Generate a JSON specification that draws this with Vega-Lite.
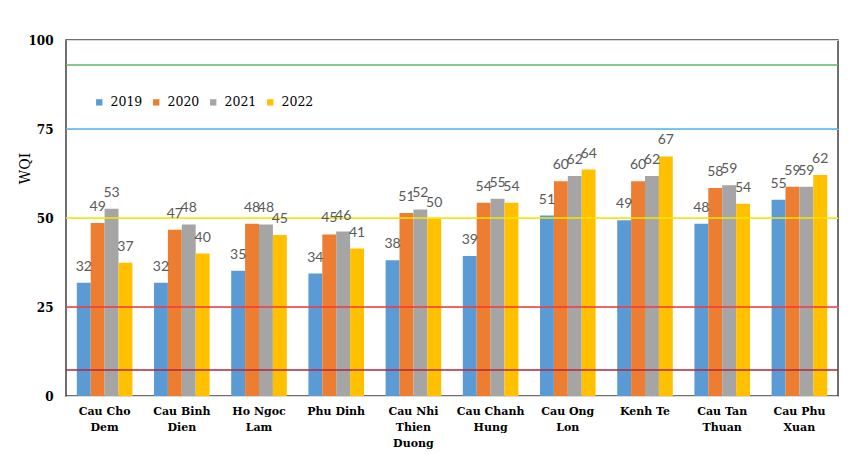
{
  "$schema": "https://vega.github.io/schema/vega-lite/v6.json",
  "width": 772,
  "height": 356,
  "autosize": {"type": "none"},
  "padding": {"left": 66, "top": 40, "right": 15, "bottom": 62},
  "background": "white",
  "config": {
    "view": {"stroke": "#404040", "strokeWidth": 1.5}
  },
  "datasets": {
    "wqi": [
      {"station": "Cau Cho Dem", "year": "2019", "wqi": 31.8},
      {"station": "Cau Cho Dem", "year": "2020", "wqi": 48.6},
      {"station": "Cau Cho Dem", "year": "2021", "wqi": 52.6},
      {"station": "Cau Cho Dem", "year": "2022", "wqi": 37.4},
      {"station": "Cau Binh Dien", "year": "2019", "wqi": 31.8},
      {"station": "Cau Binh Dien", "year": "2020", "wqi": 46.7},
      {"station": "Cau Binh Dien", "year": "2021", "wqi": 48.2},
      {"station": "Cau Binh Dien", "year": "2022", "wqi": 40.0},
      {"station": "Ho Ngoc Lam", "year": "2019", "wqi": 35.2},
      {"station": "Ho Ngoc Lam", "year": "2020", "wqi": 48.4},
      {"station": "Ho Ngoc Lam", "year": "2021", "wqi": 48.2},
      {"station": "Ho Ngoc Lam", "year": "2022", "wqi": 45.2},
      {"station": "Phu Dinh", "year": "2019", "wqi": 34.4},
      {"station": "Phu Dinh", "year": "2020", "wqi": 45.4},
      {"station": "Phu Dinh", "year": "2021", "wqi": 46.2},
      {"station": "Phu Dinh", "year": "2022", "wqi": 41.4},
      {"station": "Cau Nhi Thien Duong", "year": "2019", "wqi": 38.1},
      {"station": "Cau Nhi Thien Duong", "year": "2020", "wqi": 51.4},
      {"station": "Cau Nhi Thien Duong", "year": "2021", "wqi": 52.4},
      {"station": "Cau Nhi Thien Duong", "year": "2022", "wqi": 49.8},
      {"station": "Cau Chanh Hung", "year": "2019", "wqi": 39.3},
      {"station": "Cau Chanh Hung", "year": "2020", "wqi": 54.3},
      {"station": "Cau Chanh Hung", "year": "2021", "wqi": 55.4},
      {"station": "Cau Chanh Hung", "year": "2022", "wqi": 54.3},
      {"station": "Cau Ong Lon", "year": "2019", "wqi": 50.7},
      {"station": "Cau Ong Lon", "year": "2020", "wqi": 60.3},
      {"station": "Cau Ong Lon", "year": "2021", "wqi": 61.8},
      {"station": "Cau Ong Lon", "year": "2022", "wqi": 63.6},
      {"station": "Kenh Te", "year": "2019", "wqi": 49.4},
      {"station": "Kenh Te", "year": "2020", "wqi": 60.3},
      {"station": "Kenh Te", "year": "2021", "wqi": 61.8},
      {"station": "Kenh Te", "year": "2022", "wqi": 67.3},
      {"station": "Cau Tan Thuan", "year": "2019", "wqi": 48.4},
      {"station": "Cau Tan Thuan", "year": "2020", "wqi": 58.4},
      {"station": "Cau Tan Thuan", "year": "2021", "wqi": 59.2},
      {"station": "Cau Tan Thuan", "year": "2022", "wqi": 54.0},
      {"station": "Cau Phu Xuan", "year": "2019", "wqi": 55.1},
      {"station": "Cau Phu Xuan", "year": "2020", "wqi": 58.8},
      {"station": "Cau Phu Xuan", "year": "2021", "wqi": 58.8},
      {"station": "Cau Phu Xuan", "year": "2022", "wqi": 62.1}
    ],
    "levels": [
      {"level": "very good", "wqi": 93},
      {"level": "good", "wqi": 75},
      {"level": "medium", "wqi": 50},
      {"level": "poor", "wqi": 25},
      {"level": "bad", "wqi": 7.3}
    ]
  },
  "resolve": {"scale": {"color": "independent"}},
  "layer": [
    {
      "data": {"name": "wqi"},
      "mark": {"type": "bar"},
      "encoding": {
        "x": {
          "field": "station", "type": "nominal", "sort": null,
          "scale": {"paddingInner": 0.28, "paddingOuter": 0.14},
          "axis": {
            "title": null, "ticks": false, "domain": false, "labelAngle": 0,
            "labelFont": "DejaVu Serif", "labelFontWeight": "bold", "labelFontSize": 11,
            "labelColor": "#000000", "labelPadding": 9, "labelLineHeight": 16,
            "labelBaseline": "top",
            "labelExpr": "length(split(datum.label,' '))==2 ? datum.label : length(split(datum.label,' '))==3 ? [join(slice(split(datum.label,' '),0,2),' '), split(datum.label,' ')[2]] : [join(slice(split(datum.label,' '),0,2),' '), split(datum.label,' ')[2], split(datum.label,' ')[3]]"
          }
        },
        "xOffset": {"field": "year", "type": "nominal", "scale": {"paddingInner": 0, "paddingOuter": 0}},
        "y": {
          "field": "wqi", "type": "quantitative",
          "scale": {"domain": [0, 100], "nice": false},
          "axis": {
            "title": "WQI", "values": [0, 25, 50, 75, 100], "ticks": false, "domain": false,
            "grid": true, "gridColor": "#D9D9D9", "gridWidth": 1,
            "labelFont": "DejaVu Serif", "labelFontWeight": "bold", "labelFontSize": 12,
            "labelColor": "#000000", "labelPadding": 13,
            "titleFont": "DejaVu Serif", "titleFontWeight": "normal", "titleFontSize": 14,
            "titleColor": "#000000", "titleAngle": 270, "titleX": -41, "titleY": 128,
            "titleAlign": "center", "titleBaseline": "middle"
          }
        },
        "color": {
          "field": "year", "type": "nominal",
          "scale": {"domain": ["2019", "2020", "2021", "2022"], "range": ["#5B9BD5", "#ED7D31", "#A5A5A5", "#FFC000"]},
          "legend": {
            "title": null, "orient": "none", "direction": "horizontal",
            "legendX": 27, "legendY": 56, "symbolType": "square", "symbolSize": 40,
            "symbolStrokeWidth": 0, "labelFont": "DejaVu Serif", "labelFontSize": 12.5,
            "labelColor": "#000000", "labelOffset": 5, "columnPadding": 7
          }
        }
      }
    },
    {
      "data": {"name": "levels"},
      "mark": {"type": "rule", "strokeWidth": 1.5},
      "encoding": {
        "y": {"field": "wqi", "type": "quantitative"},
        "color": {
          "field": "level", "type": "nominal",
          "scale": {"domain": ["very good", "good", "medium", "poor", "bad"], "range": ["#5FB86A", "#4DB8E8", "#F5E800", "#F03A3A", "#B3243A"]},
          "legend": null
        }
      }
    },
    {
      "data": {"name": "wqi"},
      "mark": {"type": "text", "font": "Lato", "fontSize": 14, "color": "#595959", "baseline": "middle", "dy": -16},
      "encoding": {
        "x": {"field": "station", "type": "nominal", "sort": null},
        "xOffset": {"field": "year", "type": "nominal"},
        "y": {"field": "wqi", "type": "quantitative"},
        "text": {"field": "wqi", "type": "quantitative", "format": ".0f"}
      }
    }
  ]
}
